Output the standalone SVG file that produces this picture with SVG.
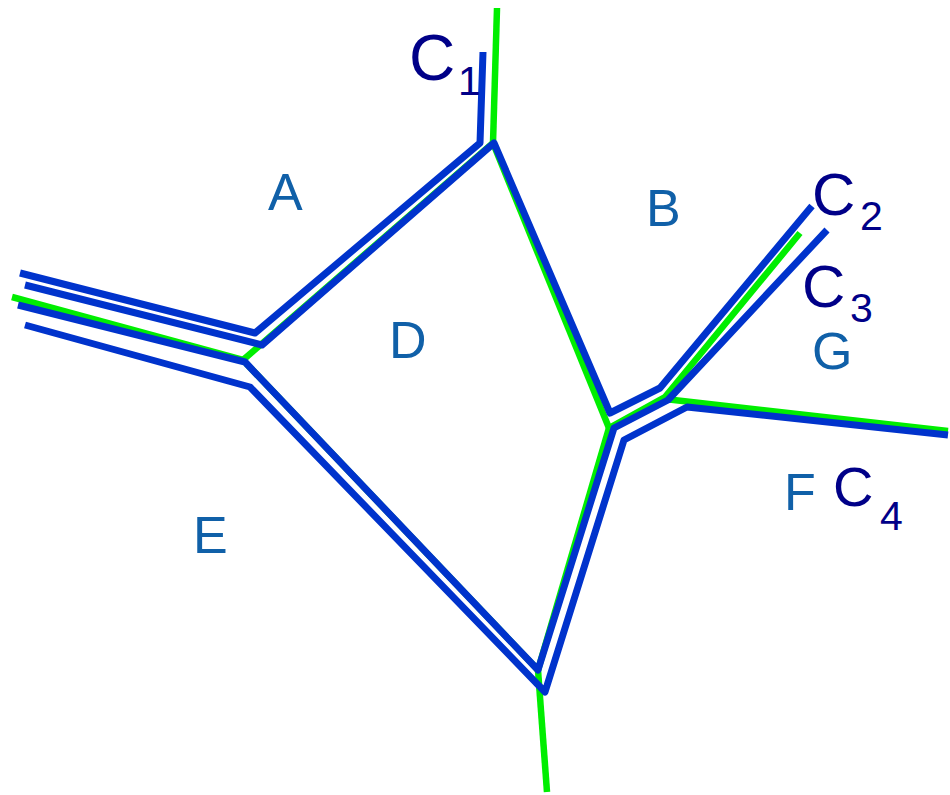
<svg xmlns="http://www.w3.org/2000/svg" width="950" height="795" viewBox="0 0 950 795">
<style>
.g{fill:none;stroke:#00ee00;stroke-width:6.5;stroke-linejoin:round}
.b{fill:none;stroke:#0033cc;stroke-width:7;stroke-linejoin:round}
.r{font-family:"Liberation Sans",Arial,sans-serif;font-size:52px;fill:#1060a8}
.c{font-family:"Liberation Sans",Arial,sans-serif;fill:#000088}
</style>
<rect width="950" height="795" fill="#ffffff"/>
<g id="connectors">
<g id="green">
<path class="g" d="M497,8 L493,143"/>
<path class="g" d="M493,143 L243,360"/>
<path class="g" d="M12,297 L243,360"/>
<path class="g" d="M243,360 L538,670"/>
<path class="g" d="M538,670 L547,792"/>
<path class="g" d="M538,670 L609,428"/>
<path class="g" d="M493,143 L609,428"/>
<path class="g" d="M609,428 L665,397 L800,233"/>
<path class="g" d="M665,399 L948,431"/>
</g>
<g id="blue">
<path class="b" d="M483,52 L480,143 L255,333 L20,273"/>
<path class="b" d="M25,285 L262,345 L494,143 L610,413 L660,388 L812,206"/>
<path class="b" d="M18,305 L245,362 L538,670 L614,428 L668,400 L827,230"/>
<path class="b" d="M25,325 L250,387 L545,692 L624,440 L687,407 L948,435"/>
</g>
</g>
<g id="A"><text class="r" x="268" y="210">A</text></g>
<g id="B"><text class="r" x="646" y="226">B</text></g>
<g id="D"><text class="r" x="389" y="358">D</text></g>
<g id="E"><text class="r" x="193" y="553">E</text></g>
<g id="F"><text class="r" x="784" y="510">F</text></g>
<g id="G"><text class="r" x="812" y="369">G</text></g>
<g id="C1"><text class="c" x="409" y="80" font-size="64">C</text><text class="c" x="458" y="95" font-size="41">1</text></g>
<g id="C2"><text class="c" x="812" y="215" font-size="60">C</text><text class="c" x="860" y="230" font-size="41">2</text></g>
<g id="C3"><text class="c" x="802" y="307" font-size="60">C</text><text class="c" x="850" y="322" font-size="41">3</text></g>
<g id="C4"><text class="c" x="833" y="506" font-size="56">C</text><text class="c" x="880" y="530" font-size="41">4</text></g>
</svg>
